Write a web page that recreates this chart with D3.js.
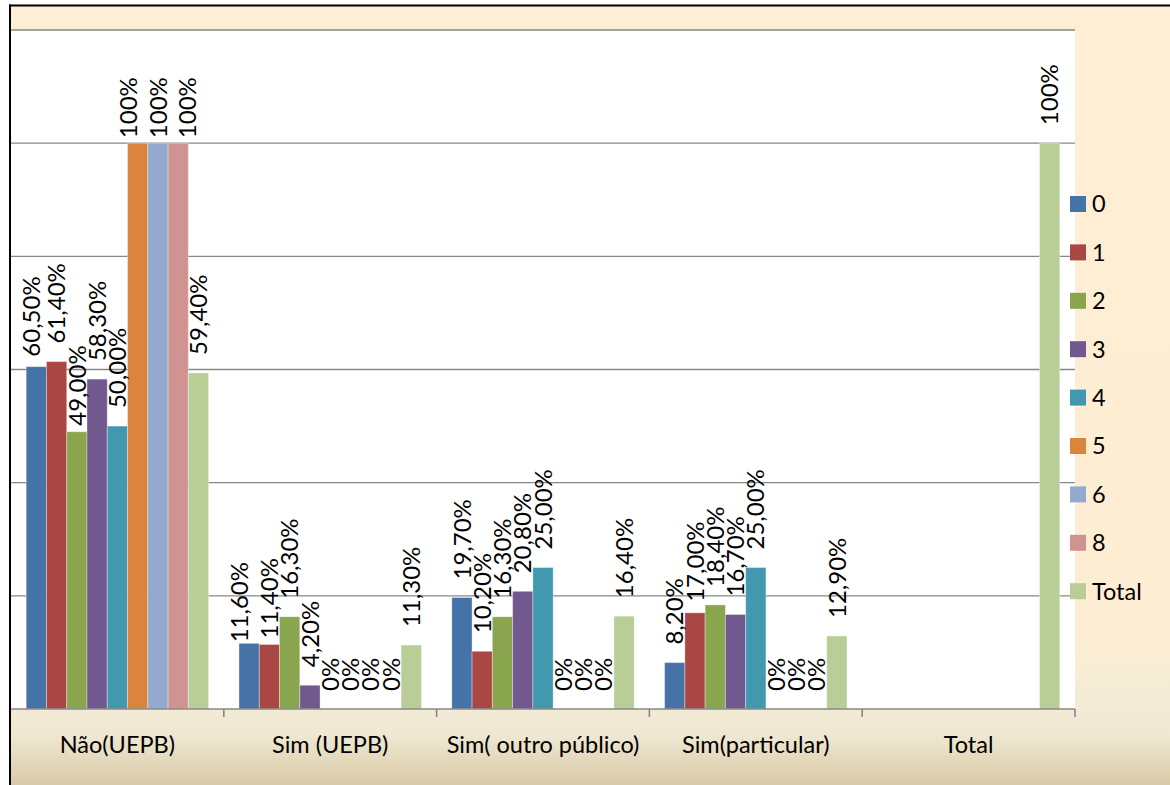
<!DOCTYPE html>
<html>
<head>
<meta charset="utf-8">
<script src="https://cdn.jsdelivr.net/npm/d3@7"></script>
<style>
  html, body { margin: 0; padding: 0; background: #ffffff; }
  svg { display: block; }
  text { font-family: Lato, "Open Sans", sans-serif; fill: #000; }
</style>
</head>
<body>
<svg id="chart" width="1170" height="785"></svg>
<script>
// Categories on the x axis
const categories = ["Não(UEPB)", "Sim (UEPB)", "Sim( outro público)", "Sim(particular)", "Total"];

// Series names (legend order)
const seriesNames = ["0", "1", "2", "3", "4", "5", "6", "8", "Total"];

// Share per category for each series (null = no bar / no label)
const s0     = [0.605, 0.116, 0.197, 0.082, null];
const s1     = [0.614, 0.114, 0.102, 0.170, null];
const s2     = [0.490, 0.163, 0.163, 0.184, null];
const s3     = [0.583, 0.042, 0.208, 0.167, null];
const s4     = [0.500, 0.000, 0.250, 0.250, null];
const s5     = [1.000, 0.000, 0.000, 0.000, null];
const s6     = [1.000, 0.000, 0.000, 0.000, null];
const s8     = [1.000, 0.000, 0.000, 0.000, null];
const sTotal = [0.594, 0.113, 0.164, 0.129, 1.000];

// Label text as printed on the chart
const labels0     = ["60,50%", "11,60%", "19,70%", "8,20%", null];
const labels1     = ["61,40%", "11,40%", "10,20%", "17,00%", null];
const labels2     = ["49,00%", "16,30%", "16,30%", "18,40%", null];
const labels3     = ["58,30%", "4,20%", "20,80%", "16,70%", null];
const labels4     = ["50,00%", "0%", "25,00%", "25,00%", null];
const labels5     = ["100%", "0%", "0%", "0%", null];
const labels6     = ["100%", "0%", "0%", "0%", null];
const labels8     = ["100%", "0%", "0%", "0%", null];
const labelsTotal = ["59,40%", "11,30%", "16,40%", "12,90%", "100%"];

// Y gridline values
const gridValues = [0, 0.2, 0.4, 0.6, 0.8, 1.0, 1.2];

const seriesValues = [s0, s1, s2, s3, s4, s5, s6, s8, sTotal];
const seriesLabels = [labels0, labels1, labels2, labels3, labels4, labels5, labels6, labels8, labelsTotal];
const colors = ["#4572A7", "#AA4643", "#89A54E", "#71588F", "#4198AF", "#DB843D", "#93A9CF", "#D19392", "#B9CD96"];

// Hand-placed labels: [dx, dy] in px relative to the default spot
const labelNudge = {
  "0|0": [-5, 8],
  "0|2": [0, 12],
  "0|5": [-9, 13],
  "0|6": [0, 13],
  "0|7": [9, 13],
  "1|0": [-10, 17],
  "1|1": [0, 12],
  "3|1": [0, 7]
};

const svg = d3.select("#chart");
const W = 1170, H = 785;
const plot = { left: 11, right: 1075, top: 30, bottom: 709 };

// Background with soft gradient toward the bottom
const defs = svg.append("defs");
const grad = defs.append("linearGradient")
  .attr("id", "bgGrad").attr("x1", 0).attr("y1", 0).attr("x2", 0).attr("y2", 1);
[[0, "#FEEFD4"], [0.81, "#FDEED3"], [0.89, "#F3EBD6"], [0.935, "#EFE8D3"], [1, "#D8CAA6"]]
  .forEach(([o, c]) => grad.append("stop").attr("offset", o).attr("stop-color", c));

svg.append("rect").attr("x", 10).attr("y", 5).attr("width", W - 10).attr("height", H - 5)
  .attr("fill", "url(#bgGrad)");

// Plot area
svg.append("rect")
  .attr("x", plot.left).attr("y", plot.top)
  .attr("width", plot.right - plot.left).attr("height", plot.bottom - plot.top)
  .attr("fill", "#ffffff");

const x0 = d3.scaleBand().domain(categories).range([plot.left, plot.right]).paddingInner(0).paddingOuter(0);
// 150% gap width: bars fill 9 of 10.5 units
const gapUnits = 1.5;
const bw = x0.bandwidth() / (seriesNames.length + gapUnits);
const x1 = d3.scaleBand().domain(seriesNames)
  .range([bw * gapUnits / 2, x0.bandwidth() - bw * gapUnits / 2]).padding(0);

const y = d3.scaleLinear().domain([0, 1.2]).range([plot.bottom, plot.top]);

// Gridlines
svg.append("g").selectAll("line")
  .data(gridValues.filter(v => v > 0))
  .join("line")
  .attr("x1", plot.left).attr("x2", plot.right)
  .attr("y1", d => y(d)).attr("y2", d => y(d))
  .attr("stroke", "#878787").attr("stroke-width", 1.4);

// Bars
const barRows = [];
seriesValues.forEach((vals, si) => {
  vals.forEach((v, ci) => {
    barRows.push({ si, ci, v, label: seriesLabels[si][ci] });
  });
});

svg.append("g").selectAll("rect")
  .data(barRows.filter(d => d.v !== null && d.v > 0))
  .join("rect")
  .attr("x", d => x0(categories[d.ci]) + x1(seriesNames[d.si]))
  .attr("y", d => y(d.v))
  .attr("width", x1.bandwidth())
  .attr("height", d => y(0) - y(d.v))
  .attr("fill", d => colors[d.si])
  .attr("stroke", "rgba(255,255,255,0.35)")
  .attr("stroke-width", 1);

// X axis
const xAxis = d3.axisBottom(x0).tickSize(0).tickPadding(0).tickFormat("");
const axisG = svg.append("g").attr("transform", `translate(0,${plot.bottom})`).call(xAxis);
axisG.select(".domain").remove();
axisG.append("line")
  .attr("x1", plot.left).attr("x2", plot.right).attr("y1", 0).attr("y2", 0)
  .attr("stroke", "#878787").attr("stroke-width", 1.6);
axisG.selectAll(".boundary")
  .data(categories.map(c => x0(c) + x0.bandwidth()))
  .join("line")
  .attr("class", "boundary")
  .attr("x1", d => d).attr("x2", d => d).attr("y1", 0).attr("y2", 8)
  .attr("stroke", "#878787").attr("stroke-width", 1.6);

svg.append("g").selectAll("text")
  .data(categories)
  .join("text")
  .attr("x", d => x0(d) + x0.bandwidth() / 2)
  .attr("y", 753)
  .attr("text-anchor", "middle")
  .attr("font-size", 23.5)
  .text(d => d);

// Value labels, rotated
svg.append("g").selectAll("text")
  .data(barRows.filter(d => d.label !== null))
  .join("text")
  .attr("transform", d => {
    const n = labelNudge[d.ci + "|" + d.si] || [0, 0];
    const cx = x0(categories[d.ci]) + x1(seriesNames[d.si]) + x1.bandwidth() / 2 + n[0];
    const cy = y(d.v) - 18 + n[1];
    return `translate(${cx},${cy}) rotate(-90)`;
  })
  .attr("dy", "0.36em")
  .attr("text-anchor", "start")
  .attr("font-size", 24)
  .text(d => d.label);

// Legend
const legend = svg.append("g").attr("transform", "translate(1070,196)");
const item = legend.selectAll("g")
  .data(seriesNames)
  .join("g")
  .attr("transform", (d, i) => `translate(0,${i * 48.4})`);
item.append("rect").attr("width", 16).attr("height", 16).attr("fill", (d, i) => colors[i]);
item.append("text").attr("x", 22).attr("y", 8).attr("dy", "0.36em")
  .attr("font-size", 23.5).text(d => d);

// Outer frame (left and top edges)
svg.append("line").attr("x1", 10).attr("x2", 10).attr("y1", 4.5).attr("y2", H)
  .attr("stroke", "#000").attr("stroke-width", 2);
svg.append("line").attr("x1", 9).attr("x2", W).attr("y1", 5.5).attr("y2", 5.5)
  .attr("stroke", "#000").attr("stroke-width", 2);
</script>
</body>
</html>
